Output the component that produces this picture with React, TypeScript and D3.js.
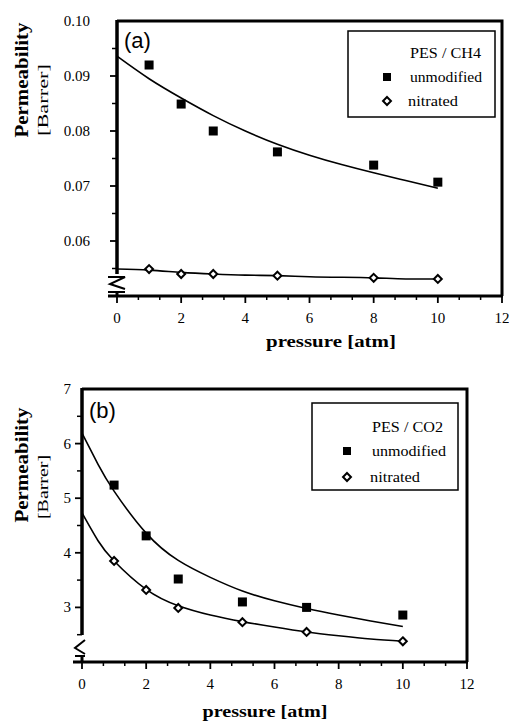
import { useEffect, useRef } from 'react';
import * as d3 from 'd3';

// Panel (a): PES / CH4
const pressureA = [1, 2, 3, 5, 8, 10];
const ch4Unmodified = [0.092, 0.0849, 0.08, 0.0762, 0.0738, 0.0707];
const ch4Nitrated = [0.0549, 0.054, 0.054, 0.0537, 0.0533, 0.0531];
const fitPressureA = [0, 1, 2, 3, 4, 5, 6, 7, 8, 9, 10];
const ch4UnmodifiedFit = [0.0936, 0.0895, 0.086, 0.0828, 0.08, 0.0776, 0.0756, 0.0739, 0.0724, 0.071, 0.0696];
const ch4NitratedFit = [0.0549, 0.0547, 0.0543, 0.054, 0.0538, 0.0537, 0.0535, 0.0534, 0.0533, 0.0531, 0.0531];
const yTicksA = [0.06, 0.07, 0.08, 0.09, 0.1];

// Panel (b): PES / CO2
const pressureB = [1, 2, 3, 5, 7, 10];
const co2Unmodified = [5.24, 4.31, 3.52, 3.1, 3.0, 2.86];
const co2Nitrated = [3.85, 3.32, 2.99, 2.73, 2.55, 2.38];
const fitPressureB = [0, 0.5, 1, 2, 3, 4, 5, 6, 7, 8, 9, 10];
const co2UnmodifiedFit = [6.19, 5.62, 5.13, 4.36, 3.86, 3.55, 3.3, 3.12, 2.98, 2.86, 2.75, 2.65];
const co2NitratedFit = [4.73, 4.22, 3.85, 3.33, 3.03, 2.86, 2.74, 2.64, 2.55, 2.48, 2.42, 2.38];
const yTicksB = [3, 4, 5, 6, 7];

const xTicks = [0, 2, 4, 6, 8, 10, 12];

interface PanelProps {
  tag: string;
  gas: string;
  x0: number;
  x1: number;
  yTop: number;
  yBottom: number;
  yDomain: [number, number];
  yTicks: number[];
  yFormat: (v: number) => string;
  yLabelGap: number;
  yMinorStep: number;
  axisEnd: number;
  breakKind: 'z' | 'lt';
  unmodified: number[];
  nitrated: number[];
  pressure: number[];
  fitX: number[];
  unmodFit: number[];
  nitrFit: number[];
  tagPos: [number, number];
  xTitle: [number, number, number];
  yTitleCenter: number;
  barrer: [number, number];
  legend: { x: number; y: number; w: number; h: number; textX: number; markX: number; rows: number[]; widths: number[] };
}

const SERIF = 'Liberation Serif, DejaVu Serif, serif';
const SANS = 'Liberation Sans, Arial, sans-serif';

function Panel(p: PanelProps) {
  const ref = useRef<SVGGElement>(null);

  useEffect(() => {
    if (!ref.current) return;
    const g = d3.select(ref.current);
    g.selectAll('*').remove();

    const x = d3.scaleLinear().domain([0, 12]).range([p.x0, p.x1]);
    const y = d3.scaleLinear().domain(p.yDomain).range([p.yBottom, p.yTop]);

    // frame: top + right
    g.append('path')
      .attr('d', `M${p.x0},${p.yTop} H${p.x1} V${p.yBottom}`)
      .attr('fill', 'none').attr('stroke', '#000').attr('stroke-width', 3);
    // bottom axis
    g.append('line')
      .attr('x1', p.x0 - 9).attr('x2', p.x1 + 1)
      .attr('y1', p.yBottom).attr('y2', p.yBottom)
      .attr('stroke', '#000').attr('stroke-width', 3);
    // left axis (broken)
    g.append('line')
      .attr('x1', p.x0).attr('x2', p.x0)
      .attr('y1', p.yTop - 1).attr('y2', p.axisEnd)
      .attr('stroke', '#000').attr('stroke-width', 3.5);
    g.append('line')
      .attr('x1', p.x0).attr('x2', p.x0)
      .attr('y1', p.yBottom - 5).attr('y2', p.yBottom)
      .attr('stroke', '#000').attr('stroke-width', 3);

    const b = p.yBottom;
    const zig = p.breakKind === 'z'
      ? `M${p.x0 - 9},${b - 19} H${p.x0 + 8} L${p.x0 - 7},${b - 12} L${p.x0 + 8},${b - 7} M${p.x0 - 9},${b - 4} H${p.x0 + 8}`
      : `M${p.x0 + 3},${b - 22} L${p.x0 - 7},${b - 14} L${p.x0 + 3},${b - 8} M${p.x0 - 7},${b - 6} H${p.x0 + 3}`;
    g.append('path').attr('d', zig).attr('fill', 'none').attr('stroke', '#000').attr('stroke-width', 2);

    // y ticks (major + minor, outward)
    const [ylo, yhi] = p.yDomain;
    const minor = d3.range(ylo + p.yMinorStep, yhi, p.yMinorStep * 2);
    g.selectAll('.ymin').data(minor).join('line')
      .attr('x1', p.x0 - 5).attr('x2', p.x0)
      .attr('y1', (d) => y(d)).attr('y2', (d) => y(d))
      .attr('stroke', '#000').attr('stroke-width', 1.5);
    g.selectAll('.ymaj').data(p.yTicks.filter((d) => d < yhi)).join('line')
      .attr('x1', p.x0 - 7).attr('x2', p.x0)
      .attr('y1', (d) => y(d)).attr('y2', (d) => y(d))
      .attr('stroke', '#000').attr('stroke-width', 1.8);
    g.selectAll('.ylab').data(p.yTicks).join('text')
      .attr('x', p.x0 - p.yLabelGap).attr('y', (d) => y(d) + 5)
      .attr('text-anchor', 'end')
      .attr('font-family', SERIF).attr('font-size', 15)
      .text((d) => p.yFormat(d));

    // x ticks
    const xMinor = d3.range(0, 12.01, 2 / 3).filter((d) => Math.abs(d / 2 - Math.round(d / 2)) > 0.01);
    g.selectAll('.xmin').data(xMinor).join('line')
      .attr('x1', (d) => x(d)).attr('x2', (d) => x(d))
      .attr('y1', p.yBottom).attr('y2', p.yBottom + 4)
      .attr('stroke', '#000').attr('stroke-width', 1.5);
    g.selectAll('.xmaj').data(xTicks).join('line')
      .attr('x1', (d) => x(d)).attr('x2', (d) => x(d))
      .attr('y1', p.yBottom).attr('y2', p.yBottom + 7)
      .attr('stroke', '#000').attr('stroke-width', 1.8);
    g.selectAll('.xlab').data(xTicks).join('text')
      .attr('x', (d) => x(d)).attr('y', p.yBottom + 27)
      .attr('text-anchor', 'middle')
      .attr('font-family', SERIF).attr('font-size', 15)
      .text((d) => String(d));

    // fitted curves
    const line = d3.line<number>()
      .x((_, i) => x(p.fitX[i]))
      .y((d) => y(d))
      .curve(d3.curveNatural);
    [p.unmodFit, p.nitrFit].forEach((fit) => {
      g.append('path').attr('d', line(fit)).attr('fill', 'none')
        .attr('stroke', '#000').attr('stroke-width', 1.6);
    });

    // markers
    g.selectAll('.sq').data(p.unmodified).join('rect')
      .attr('x', (_, i) => x(p.pressure[i]) - 4.5).attr('y', (d) => y(d) - 4.5)
      .attr('width', 9).attr('height', 9).attr('fill', '#000');
    const diamond = d3.symbol().type(d3.symbolDiamond2).size(40);
    g.selectAll('.dm').data(p.nitrated).join('path')
      .attr('d', diamond)
      .attr('transform', (d, i) => `translate(${x(p.pressure[i])},${y(d)})`)
      .attr('fill', '#fff').attr('stroke', '#000').attr('stroke-width', 2);

    // panel tag
    g.append('text').attr('x', p.tagPos[0]).attr('y', p.tagPos[1])
      .attr('font-family', SANS).attr('font-size', 22).text(p.tag);

    // axis titles
    g.append('text').attr('x', p.xTitle[0]).attr('y', p.xTitle[1])
      .attr('text-anchor', 'middle')
      .attr('textLength', p.xTitle[2]).attr('lengthAdjust', 'spacingAndGlyphs')
      .attr('font-family', SERIF).attr('font-size', 17).attr('font-weight', 'bold')
      .text('pressure [atm]');
    g.append('text').attr('transform', `translate(28,${p.yTitleCenter}) rotate(-90)`)
      .attr('text-anchor', 'middle')
      .attr('textLength', 115).attr('lengthAdjust', 'spacingAndGlyphs')
      .attr('font-family', SERIF).attr('font-size', 19).attr('font-weight', 'bold')
      .text('Permeability');
    g.append('text').attr('transform', `translate(48,${p.barrer[0]}) rotate(-90)`)
      .attr('text-anchor', 'middle')
      .attr('textLength', p.barrer[1]).attr('lengthAdjust', 'spacingAndGlyphs')
      .attr('font-family', SERIF).attr('font-size', 15)
      .text('[Barrer]');

    // legend
    const L = p.legend;
    g.append('rect').attr('x', L.x).attr('y', L.y).attr('width', L.w).attr('height', L.h)
      .attr('fill', '#fff').attr('stroke', '#000').attr('stroke-width', 1.5);
    const labels = [`PES / ${p.gas}`, 'unmodified', 'nitrated'];
    labels.forEach((t, i) => {
      g.append('text').attr('x', L.textX - (i === 2 ? 2 : 0)).attr('y', L.rows[i])
        .attr('textLength', L.widths[i]).attr('lengthAdjust', 'spacingAndGlyphs')
        .attr('font-family', SERIF).attr('font-size', 15.5).text(t);
    });
    g.append('rect').attr('x', L.markX - 4).attr('y', L.rows[1] - 9)
      .attr('width', 8).attr('height', 8).attr('fill', '#000');
    g.append('path').attr('d', diamond)
      .attr('transform', `translate(${L.markX},${L.rows[2] - 5})`)
      .attr('fill', '#fff').attr('stroke', '#000').attr('stroke-width', 2);
  }, [p]);

  return <g ref={ref} />;
}

export default function App() {
  const fmtA = d3.format('.2f');
  const fmtB = (v: number) => String(v);
  return (
    <svg width={509} height={722} style={{ position: 'absolute', left: 0, top: 0, background: '#fff' }}>
      <Panel
        tag="(a)" gas="CH4"
        x0={117} x1={502} yTop={21} yBottom={296}
        yDomain={[0.05, 0.1]} yTicks={yTicksA} yFormat={fmtA} yLabelGap={27} yMinorStep={0.005}
        axisEnd={274} breakKind="z"
        pressure={pressureA} unmodified={ch4Unmodified} nitrated={ch4Nitrated}
        fitX={fitPressureA} unmodFit={ch4UnmodifiedFit} nitrFit={ch4NitratedFit}
        tagPos={[124, 48]} xTitle={[331, 347, 130]} yTitleCenter={80} barrer={[100, 72]}
        legend={{ x: 348, y: 31, w: 147, h: 86, textX: 410, markX: 387, rows: [58, 82, 106], widths: [71, 72, 50] }}
      />
      <Panel
        tag="(b)" gas="CO2"
        x0={82} x1={467} yTop={389} yBottom={662}
        yDomain={[2, 7]} yTicks={yTicksB} yFormat={fmtB} yLabelGap={11} yMinorStep={0.5}
        axisEnd={635} breakKind="lt"
        pressure={pressureB} unmodified={co2Unmodified} nitrated={co2Nitrated}
        fitX={fitPressureB} unmodFit={co2UnmodifiedFit} nitrFit={co2NitratedFit}
        tagPos={[89, 418]} xTitle={[265, 717, 125]} yTitleCenter={465} barrer={[487, 64]}
        legend={{ x: 312, y: 403, w: 146, h: 87, textX: 372, markX: 347, rows: [432, 456, 482], widths: [71, 74, 50] }}
      />
    </svg>
  );
}
